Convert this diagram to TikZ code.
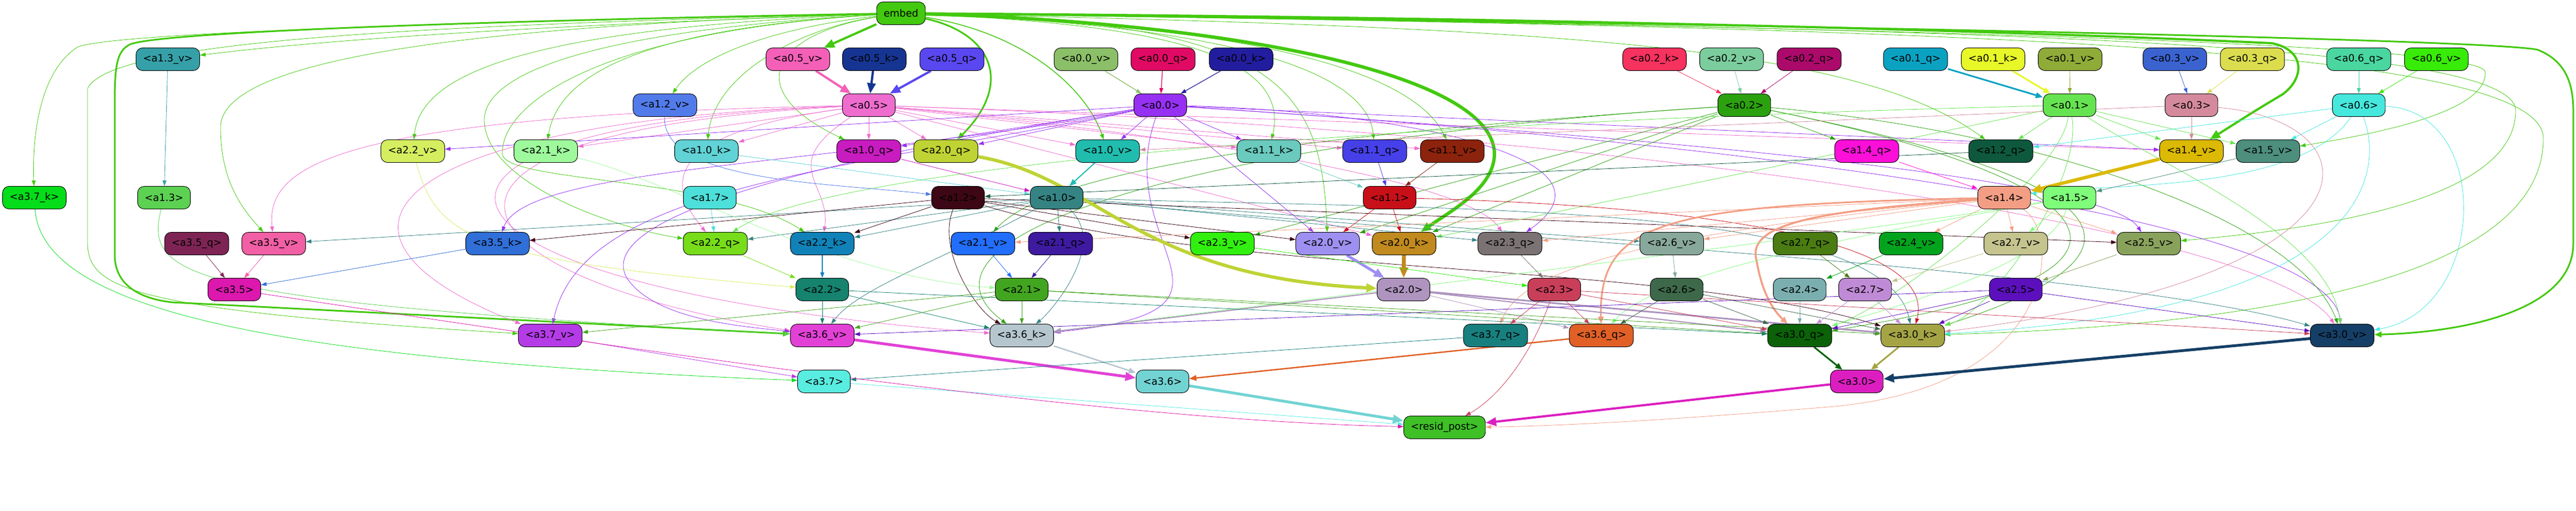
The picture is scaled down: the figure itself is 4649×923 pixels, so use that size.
\documentclass[tikz,border=0pt]{standalone}
\usepackage{fontspec}
\setmainfont{DejaVu Sans}
\usetikzlibrary{arrows.meta}
\usetikzlibrary{backgrounds}
\definecolor{cembed}{HTML}{43C90F}
\definecolor{ca13v}{HTML}{36A0A8}
\definecolor{ca37k}{HTML}{05DD1A}
\definecolor{ca13}{HTML}{5CD152}
\definecolor{ca22v}{HTML}{D4EE60}
\definecolor{ca35q}{HTML}{7E2454}
\definecolor{ca35v}{HTML}{F15FA5}
\definecolor{ca35}{HTML}{DC18AE}
\definecolor{ca05v}{HTML}{F460B8}
\definecolor{ca12v}{HTML}{527BEA}
\definecolor{ca21k}{HTML}{9EF99C}
\definecolor{ca10k}{HTML}{61D2D6}
\definecolor{ca17}{HTML}{4DDFD9}
\definecolor{ca35k}{HTML}{306FD8}
\definecolor{ca22q}{HTML}{77DC1A}
\definecolor{ca22k}{HTML}{1182B8}
\definecolor{ca22}{HTML}{15836E}
\definecolor{ca37v}{HTML}{B43BE6}
\definecolor{ca36v}{HTML}{E241D6}
\definecolor{ca37}{HTML}{59ECE0}
\definecolor{ca05k}{HTML}{163592}
\definecolor{ca05q}{HTML}{5948EF}
\definecolor{ca05}{HTML}{EF6CCF}
\definecolor{ca10q}{HTML}{C81BC0}
\definecolor{ca20q}{HTML}{BFD334}
\definecolor{ca00v}{HTML}{8BBF68}
\definecolor{ca00q}{HTML}{E00A64}
\definecolor{ca00k}{HTML}{221D9E}
\definecolor{ca00}{HTML}{9630F2}
\definecolor{ca10v}{HTML}{20BDAF}
\definecolor{ca11k}{HTML}{6ACABD}
\definecolor{ca12}{HTML}{3D0715}
\definecolor{ca10}{HTML}{368383}
\definecolor{ca21v}{HTML}{226DF9}
\definecolor{ca21q}{HTML}{3E1AA0}
\definecolor{ca23v}{HTML}{31F00F}
\definecolor{ca21}{HTML}{42A51F}
\definecolor{ca36k}{HTML}{B5C6CE}
\definecolor{ca36}{HTML}{72D3D3}
\definecolor{ca02k}{HTML}{F6325F}
\definecolor{ca02v}{HTML}{7CCD9D}
\definecolor{ca02}{HTML}{2CA110}
\definecolor{ca11q}{HTML}{4540E8}
\definecolor{ca11v}{HTML}{8C230C}
\definecolor{ca11}{HTML}{C81019}
\definecolor{ca20v}{HTML}{9E90F1}
\definecolor{ca20k}{HTML}{C08A1F}
\definecolor{ca23q}{HTML}{7B7373}
\definecolor{ca26v}{HTML}{88A89B}
\definecolor{ca20}{HTML}{AE94BF}
\definecolor{ca23}{HTML}{C93F5A}
\definecolor{ca26}{HTML}{3E684A}
\definecolor{ca37q}{HTML}{187F7F}
\definecolor{ca36q}{HTML}{E06026}
\definecolor{cresid}{HTML}{3FC027}
\definecolor{ca02q}{HTML}{AB0A6B}
\definecolor{ca01q}{HTML}{0BA2C2}
\definecolor{ca01k}{HTML}{E7F727}
\definecolor{ca01v}{HTML}{8FAB38}
\definecolor{ca01}{HTML}{66E350}
\definecolor{ca14q}{HTML}{FC0FD9}
\definecolor{ca12q}{HTML}{0E583E}
\definecolor{ca14}{HTML}{F39E84}
\definecolor{ca15}{HTML}{7EFC7A}
\definecolor{ca27q}{HTML}{4A7C12}
\definecolor{ca24v}{HTML}{04A31E}
\definecolor{ca27v}{HTML}{C5C38E}
\definecolor{ca25v}{HTML}{88A25C}
\definecolor{ca24}{HTML}{7BAFAF}
\definecolor{ca27}{HTML}{C08BD6}
\definecolor{ca25}{HTML}{5C10BD}
\definecolor{ca30q}{HTML}{0B6208}
\definecolor{ca30k}{HTML}{A4A445}
\definecolor{ca30}{HTML}{DC1EC0}
\definecolor{ca03v}{HTML}{3A63D0}
\definecolor{ca03q}{HTML}{DBDD4F}
\definecolor{ca06q}{HTML}{49D69F}
\definecolor{ca06v}{HTML}{38EB08}
\definecolor{ca03}{HTML}{D48A9C}
\definecolor{ca06}{HTML}{45E8DD}
\definecolor{ca14v}{HTML}{DCB904}
\definecolor{ca15v}{HTML}{4D8E7C}
\definecolor{ca30v}{HTML}{153F66}
\newcommand{\blk}[4]{\node[blk, fill=c#1] (#1) at (#2,#3) {#4};}

\begin{document}
\begin{tikzpicture}[x=1pt,y=-1pt,
    blk/.style={draw=black, line width=0.9pt, rounded corners=12pt, minimum height=41pt,
        inner xsep=12.75pt, inner ysep=0pt, font=\fontsize{18}{20}\selectfont},
    e/.style={-{Triangle[length=10pt,width=7pt]}, line width=0.8pt},
    em/.style={-{Triangle[length=13pt,width=10pt]}, line width=2.4pt},
    eb/.style={-{Triangle[length=19pt,width=15pt]}, line width=5pt}]
        \useasboundingbox (0,0) rectangle (4649,923);
        % row0
        \blk{embed}{1626}{24}{embed}
        % row1
        \blk{a13v}{303}{107}{<a1.3\_v>}
        \blk{a05v}{1440}{107}{<a0.5\_v>}
        \blk{a05k}{1578}{107}{<a0.5\_k>}
        \blk{a05q}{1718}{107}{<a0.5\_q>}
        \blk{a00v}{1960}{107}{<a0.0\_v>}
        \blk{a00q}{2099}{107}{<a0.0\_q>}
        \blk{a00k}{2240}{107}{<a0.0\_k>}
        \blk{a02k}{2986}{107}{<a0.2\_k>}
        \blk{a02v}{3125}{107}{<a0.2\_v>}
        \blk{a02q}{3265}{107}{<a0.2\_q>}
        \blk{a01q}{3457}{107}{<a0.1\_q>}
        \blk{a01k}{3597}{107}{<a0.1\_k>}
        \blk{a01v}{3736}{107}{<a0.1\_v>}
        \blk{a03v}{3925}{107}{<a0.3\_v>}
        \blk{a03q}{4065}{107}{<a0.3\_q>}
        \blk{a06q}{4257}{107}{<a0.6\_q>}
        \blk{a06v}{4397}{107}{<a0.6\_v>}
        % row2
        \blk{a12v}{1200}{190}{<a1.2\_v>}
        \blk{a05}{1568}{190}{<a0.5>}
        \blk{a00}{2094}{190}{<a0.0>}
        \blk{a02}{3148}{190}{<a0.2>}
        \blk{a01}{3735}{190}{<a0.1>}
        \blk{a03}{3955}{190}{<a0.3>}
        \blk{a06}{4257}{190}{<a0.6>}
        % row3
        \blk{a22v}{745}{273}{<a2.2\_v>}
        \blk{a21k}{985}{273}{<a2.1\_k>}
        \blk{a10k}{1275}{273}{<a1.0\_k>}
        \blk{a10q}{1568}{273}{<a1.0\_q>}
        \blk{a20q}{1707}{273}{<a2.0\_q>}
        \blk{a10v}{1999}{273}{<a1.0\_v>}
        \blk{a11k}{2290}{273}{<a1.1\_k>}
        \blk{a11q}{2481}{273}{<a1.1\_q>}
        \blk{a11v}{2621}{273}{<a1.1\_v>}
        \blk{a14q}{3369}{273}{<a1.4\_q>}
        \blk{a12q}{3611}{273}{<a1.2\_q>}
        \blk{a14v}{3955}{273}{<a1.4\_v>}
        \blk{a15v}{4093}{273}{<a1.5\_v>}
        % row4
        \blk{a37k}{62}{357}{<a3.7\_k>}
        \blk{a13}{296}{357}{<a1.3>}
        \blk{a17}{1281}{357}{<a1.7>}
        \blk{a12}{1729}{357}{<a1.2>}
        \blk{a10}{1907}{357}{<a1.0>}
        \blk{a11}{2508}{357}{<a1.1>}
        \blk{a14}{3617}{357}{<a1.4>}
        \blk{a15}{3735}{357}{<a1.5>}
        % row5
        \blk{a35q}{355}{440}{<a3.5\_q>}
        \blk{a35v}{494}{440}{<a3.5\_v>}
        \blk{a35k}{898}{440}{<a3.5\_k>}
        \blk{a22q}{1291}{440}{<a2.2\_q>}
        \blk{a22k}{1484}{440}{<a2.2\_k>}
        \blk{a21v}{1774}{440}{<a2.1\_v>}
        \blk{a21q}{1914}{440}{<a2.1\_q>}
        \blk{a23v}{2206}{440}{<a2.3\_v>}
        \blk{a20v}{2396}{440}{<a2.0\_v>}
        \blk{a20k}{2534}{440}{<a2.0\_k>}
        \blk{a23q}{2725}{440}{<a2.3\_q>}
        \blk{a26v}{3017}{440}{<a2.6\_v>}
        \blk{a27q}{3258}{440}{<a2.7\_q>}
        \blk{a24v}{3449}{440}{<a2.4\_v>}
        \blk{a27v}{3638}{440}{<a2.7\_v>}
        \blk{a25v}{3878}{440}{<a2.5\_v>}
        % row6
        \blk{a35}{423}{523}{<a3.5>}
        \blk{a22}{1484}{523}{<a2.2>}
        \blk{a21}{1844}{523}{<a2.1>}
        \blk{a20}{2533}{523}{<a2.0>}
        \blk{a23}{2805}{523}{<a2.3>}
        \blk{a26}{3026}{523}{<a2.6>}
        \blk{a24}{3248}{523}{<a2.4>}
        \blk{a27}{3366}{523}{<a2.7>}
        \blk{a25}{3638}{523}{<a2.5>}
        % row7
        \blk{a37v}{993}{606}{<a3.7\_v>}
        \blk{a36v}{1484}{606}{<a3.6\_v>}
        \blk{a36k}{1844}{606}{<a3.6\_k>}
        \blk{a37q}{2699}{606}{<a3.7\_q>}
        \blk{a36q}{2890}{606}{<a3.6\_q>}
        \blk{a30q}{3248}{606}{<a3.0\_q>}
        \blk{a30k}{3452}{606}{<a3.0\_k>}
        \blk{a30v}{4227}{606}{<a3.0\_v>}
        % row8
        \blk{a37}{1487}{689}{<a3.7>}
        \blk{a36}{2098}{689}{<a3.6>}
        \blk{a30}{3351}{689}{<a3.0>}
        % row9
        \blk{resid}{2607}{772}{<resid\_post>}

        \begin{pgfonlayer}{background}
        % embed, thick
        \draw[eb, draw=cembed, line width=4pt] (embed) -- (a05v);
        \draw[em, draw=cembed, line width=3pt] (embed) .. controls (1790,60) and (1830,150) .. (a20q);
        \draw[eb, draw=cembed, line width=6pt] (embed) .. controls (2200,40) and (2700,130) .. (2697,280) .. controls (2695,340) and (2620,380) .. (a20k);
        \draw[eb, draw=cembed, line width=4pt] (embed) .. controls (2600,30) and (3500,50) .. (4100,78) .. controls (4160,90) and (4160,140) .. (4120,170) .. controls (4070,200) .. (a14v);
        \draw[em, draw=cembed, line width=3pt] (embed) .. controls (3000,40) and (4500,70) .. (4580,90) .. controls (4630,110) and (4644,150) .. (4644,200) -- (4644,440) .. controls (4644,560) and (4450,600) .. (a30v);
        \draw[em, draw=cembed, line width=3pt] (embed) .. controls (1000,35) and (300,55) .. (235,80) .. controls (210,92) and (207,120) .. (207,190) -- (207,460) .. controls (207,520) and (260,540) .. (310,546) -- (a36v);
        \draw[e, draw=cembed, line width=1.5pt] (embed) .. controls (1850,60) and (1960,160) .. (a10v);
        % embed, thin
        \draw[e, draw=cembed] (embed) .. controls (1000,45) and (600,70) .. (a13v);
        \draw[e, draw=cembed] (embed) .. controls (800,40) and (200,60) .. (140,85) .. controls (70,130) and (58,250) .. (a37k);
        \draw[e, draw=cembed] (embed) .. controls (800,45) and (200,70) .. (158,160) -- (158,440) .. controls (160,520) and (230,560) .. (a37v);
        \draw[e, draw=cembed] (embed) .. controls (900,45) and (398,100) .. (398,230) .. controls (398,330) and (440,380) .. (a35v);
        \draw[e, draw=cembed] (embed) .. controls (1000,50) and (760,120) .. (a22v);
        \draw[e, draw=cembed] (embed) .. controls (1200,50) and (1010,120) .. (a21k);
        \draw[e, draw=cembed] (embed) .. controls (1400,50) and (1260,100) .. (a12v);
        \draw[e, draw=cembed] (embed) .. controls (1450,50) and (1290,130) .. (a10k);
        \draw[e, draw=cembed] (embed) .. controls (1400,60) and (1330,160) .. (a10q);
        \draw[e, draw=cembed] (embed) .. controls (1000,60) and (870,150) .. (874,220) .. controls (880,330) and (1100,410) .. (a22q);
        \draw[e, draw=cembed] (embed) .. controls (1050,60) and (900,200) .. (907,280) .. controls (920,330) and (1300,320) .. (a22k);
        \draw[e, draw=cembed] (embed) .. controls (2100,45) and (2330,100) .. (a11k);
        \draw[e, draw=cembed] (embed) .. controls (2300,50) and (2470,150) .. (a11q);
        \draw[e, draw=cembed] (embed) .. controls (2350,50) and (2560,150) .. (a11v);
        \draw[e, draw=cembed] (embed) .. controls (2300,40) and (2385,150) .. (a20v);
        \draw[e, draw=cembed] (embed) .. controls (2800,50) and (3350,80) .. (a12q);
        \draw[e, draw=cembed] (embed) .. controls (3500,50) and (4480,80) .. (4485,130) .. controls (4490,200) and (4300,240) .. (a15v);
        \draw[e, draw=cembed] (embed) .. controls (3500,50) and (4540,70) .. (4540,200) .. controls (4540,380) and (4100,420) .. (a25v);
        \draw[e, draw=cembed] (embed) .. controls (3500,50) and (4590,80) .. (4590,250) .. controls (4590,520) and (4000,590) .. (a30k);

        % layer0 heads
        \draw[eb, draw=ca05v, line width=4pt] (a05v) -- (a05);
        \draw[eb, draw=ca05k, line width=4pt] (a05k) -- (a05);
        \draw[eb, draw=ca05q, line width=4pt] (a05q) -- (a05);
        \draw[e, draw=ca00v, line width=1.3pt] (a00v) -- (a00);
        \draw[e, draw=ca00q, line width=1.3pt] (a00q) -- (a00);
        \draw[e, draw=ca00k, line width=1.2pt] (a00k) -- (a00);
        \draw[e, draw=ca02k] (a02k) -- (a02);
        \draw[e, draw=ca02v] (a02v) -- (a02);
        \draw[e, draw=ca02q] (a02q) -- (a02);
        \draw[em, draw=ca01q, line width=3pt] (a01q) -- (a01);
        \draw[em, draw=ca01k, line width=3pt] (a01k) -- (a01);
        \draw[e, draw=ca01v] (a01v) -- (a01);
        \draw[e, draw=ca03v] (a03v) -- (a03);
        \draw[e, draw=ca03q] (a03q) -- (a03);
        \draw[e, draw=ca06q] (a06q) -- (a06);
        \draw[e, draw=ca06v] (a06v) -- (a06);

        % layer0 out
        \draw[e, draw=ca05] (a05) -- (a10q);
        \draw[e, draw=ca05] (a05) -- (a20q);
        \draw[e, draw=ca05] (a05) -- (a10v);
        \draw[e, draw=ca05] (a05) -- (a11k);
        \draw[e, draw=ca05] (a05) -- (a11q);
        \draw[e, draw=ca05] (a05) -- (a11v);
        \draw[e, draw=ca05] (a05) -- (a21k);
        \draw[e, draw=ca05] (a05) -- (a10k);
        \draw[e, draw=ca05] (a05) .. controls (600,210) and (480,300) .. (a35v);
        \draw[e, draw=ca05] (a05) .. controls (700,220) and (520,420) .. (a37v);
        \draw[e, draw=ca05] (a05) .. controls (600,230) and (700,520) .. (a36k);
        \draw[e, draw=ca05] (a05) .. controls (650,240) and (800,500) .. (a36v);
        \draw[e, draw=ca05] (a05) .. controls (1200,240) and (1200,330) .. (a22q);
        \draw[e, draw=ca05] (a05) .. controls (1400,300) and (1500,330) .. (a22k);
        \draw[e, draw=ca05] (a05) .. controls (2200,250) and (2650,330) .. (a23q);
        \draw[e, draw=ca05] (a05) -- (a20k);
        \draw[e, draw=ca05] (a05) -- (a14v);
        \draw[e, draw=ca05] (a05) .. controls (3000,240) and (4100,420) .. (a30v);
        \draw[e, draw=ca00] (a00) -- (a10v);
        \draw[e, draw=ca00] (a00) -- (a11k);
        \draw[e, draw=ca00] (a00) -- (a20q);
        \draw[e, draw=ca00] (a00) -- (a10q);
        \draw[e, draw=ca00] (a00) -- (a22v);
        \draw[e, draw=ca00] (a00) .. controls (1500,300) and (950,300) .. (a35k);
        \draw[e, draw=ca00] (a00) .. controls (1500,310) and (1050,340) .. (a37v);
        \draw[e, draw=ca00] (a00) .. controls (1400,300) and (1080,400) .. (1130,500) .. controls (1180,580) and (1350,590) .. (a36v);
        \draw[e, draw=ca00] (a00) -- (a20v);
        \draw[e, draw=ca00] (a00) -- (a14v);
        \draw[e, draw=ca00] (a00) .. controls (3000,250) and (3800,320) .. (a25v);
        \draw[e, draw=ca00] (a00) .. controls (3200,260) and (4200,400) .. (a30v);
        \draw[e, draw=ca00] (a00) .. controls (2500,200) and (2950,280) .. (a23q);
        \draw[e, draw=ca00] (a00) .. controls (2000,450) and (2300,560) .. (a36k);
        \draw[e, draw=ca02] (a02) -- (a14q);
        \draw[e, draw=ca02] (a02) -- (a20k);
        \draw[e, draw=ca02] (a02) -- (a20v);
        \draw[e, draw=ca02] (a02) -- (a23v);
        \draw[e, draw=ca02] (a02) .. controls (2400,240) and (1900,300) .. (a21v);
        \draw[e, draw=ca02] (a02) .. controls (2200,250) and (1600,420) .. (a36k);
        \draw[e, draw=ca02] (a02) .. controls (3700,300) and (4050,480) .. (a30q);
        \draw[e, draw=ca02] (a02) .. controls (3700,300) and (4000,430) .. (a30k);
        \draw[e, draw=ca02] (a02) .. controls (3700,240) and (4150,400) .. (a30v);
        \draw[e, draw=ca01] (a01) -- (a12q);
        \draw[e, draw=ca01] (a01) -- (a14v);
        \draw[e, draw=ca01] (a01) -- (a15v);
        \draw[e, draw=ca01] (a01) -- (a20k);
        \draw[e, draw=ca01] (a01) .. controls (2500,220) and (1500,300) .. (a22q);
        \draw[e, draw=ca01] (a01) .. controls (3720,320) and (3400,560) .. (a30q);
        \draw[e, draw=ca01] (a01) .. controls (3760,320) and (3600,560) .. (a30k);
        \draw[e, draw=ca01] (a01) .. controls (3900,300) and (4200,420) .. (a30v);
        \draw[e, draw=ca03] (a03) -- (a14v);
        \draw[e, draw=ca03] (a03) -- (a10v);
        \draw[e, draw=ca03] (a03) .. controls (4300,220) and (4320,500) .. (a30k);
        \draw[e, draw=ca06] (a06) -- (a12q);
        \draw[e, draw=ca06] (a06) -- (a15v);
        \draw[e, draw=ca06] (a06) .. controls (4500,200) and (4490,560) .. (a30v);
        \draw[e, draw=ca06] (a06) .. controls (4300,300) and (4300,560) .. (a30k);
        \draw[e, draw=ca06] (a06) .. controls (4150,350) and (3800,330) .. (a14);

        % layer1 heads
        \draw[e, draw=ca10k] (a10k) -- (a10);
        \draw[e, draw=ca10q] (a10q) -- (a10);
        \draw[em, draw=ca10v, line width=2pt] (a10v) -- (a10);
        \draw[e, draw=ca11k] (a11k) -- (a11);
        \draw[e, draw=ca11q] (a11q) -- (a11);
        \draw[e, draw=ca11v] (a11v) -- (a11);
        \draw[e, draw=ca12v] (a12v) .. controls (1195,330) and (1500,330) .. (a12);
        \draw[e, draw=ca12q] (a12q) -- (a12);
        \draw[e, draw=ca13v] (a13v) -- (a13);
        \draw[e, draw=ca14q] (a14q) -- (a14);
        \draw[eb, draw=ca14v, line width=6pt] (a14v) -- (a14);
        \draw[e, draw=ca15v] (a15v) -- (a15);
        \draw[e, draw=ca17] (a17) -- (a22q);

        % layer1 out
        \draw[e, draw=ca10] (a10) -- (a21q);
        \draw[e, draw=ca10] (a10) -- (a35v);
        \draw[e, draw=ca10] (a10) -- (a22k);
        \draw[e, draw=ca10] (a10) -- (a22q);
        \draw[e, draw=ca10] (a10) .. controls (2000,440) and (1900,560) .. (a36k);
        \draw[e, draw=ca10] (a10) -- (a26v);
        \draw[e, draw=ca10] (a10) -- (a23q);
        \draw[e, draw=ca10] (a10) .. controls (2600,380) and (3400,360) .. (a30k);
        \draw[e, draw=ca10] (a10) .. controls (2500,420) and (3800,480) .. (a30v);
        \draw[e, draw=ca10] (a10) .. controls (1700,470) and (1550,520) .. (a36v);
        \draw[e, draw=ca12] (a12) -- (a35k);
        \draw[e, draw=ca12] (a12) -- (a22k);
        \draw[e, draw=ca12] (a12) -- (a23v);
        \draw[e, draw=ca12] (a12) -- (a20v);
        \draw[e, draw=ca12] (a12) -- (a25v);
        \draw[e, draw=ca12] (a12) .. controls (2200,500) and (3000,470) .. (a30k);
        \draw[e, draw=ca12] (a12) .. controls (1690,450) and (1760,560) .. (a36k);
        \draw[e, draw=ca11] (a11) -- (a20v);
        \draw[e, draw=ca11] (a11) -- (a20k);
        \draw[e, draw=ca11] (a11) .. controls (3000,370) and (3500,420) .. (a30k);
        \draw[e, draw=ca13] (a13) .. controls (260,500) and (330,545) .. (a36v);
        \draw[em, draw=ca14, line width=3.5pt] (a14) .. controls (3300,380) and (3150,400) .. (3170,470) .. controls (3180,530) and (3200,560) .. (a30q);
        \draw[em, draw=ca14, line width=3pt] (a14) .. controls (3000,370) and (2885,400) .. (a36q);
        \draw[e, draw=ca14] (a14) -- (a24v);
        \draw[e, draw=ca14] (a14) -- (a27v);
        \draw[e, draw=ca14] (a14) -- (a25v);
        \draw[e, draw=ca14] (a14) -- (a21v);
        \draw[e, draw=ca14] (a14) -- (a23q);
        \draw[e, draw=ca14] (a14) -- (a26v);
        \draw[e, draw=ca14] (a14) .. controls (3000,420) and (2750,480) .. (a37q);
        \draw[e, draw=ca14] (a14) .. controls (3720,420) and (3720,700) .. (3300,735) .. controls (3000,760) and (2800,770) .. (resid);
        \draw[e, draw=ca15] (a15) -- (a27v);
        \draw[e, draw=ca15] (a15) .. controls (3500,400) and (3000,480) .. (a36q);
        \draw[e, draw=ca15] (a15) .. controls (3300,430) and (2200,560) .. (a36k);
        \draw[e, draw=ca15] (a15) .. controls (3700,480) and (3400,560) .. (a30q);

        % layer2 heads
        \draw[eb, draw=ca20q, line width=6pt] (a20q) .. controls (1980,320) and (2050,500) .. (a20);
        \draw[eb, draw=ca20k, line width=7pt] (a20k) -- (a20);
        \draw[eb, draw=ca20v, line width=5pt] (a20v) -- (a20);
        \draw[e, draw=ca21k] (a21k) .. controls (1200,320) and (1500,500) .. (a21);
        \draw[e, draw=ca21q] (a21q) -- (a21);
        \draw[e, draw=ca21v] (a21v) -- (a21);
        \draw[e, draw=ca22k, line width=1.5pt] (a22k) -- (a22);
        \draw[e, draw=ca22q] (a22q) -- (a22);
        \draw[e, draw=ca22v] (a22v) .. controls (790,430) and (850,468) .. (a22);
        \draw[e, draw=ca23q] (a23q) -- (a23);
        \draw[e, draw=ca23v] (a23v) -- (a23);
        \draw[e, draw=ca24v] (a24v) -- (a24);
        \draw[e, draw=ca25v] (a25v) -- (a25);
        \draw[e, draw=ca26v] (a26v) -- (a26);
        \draw[e, draw=ca27q] (a27q) -- (a27);
        \draw[e, draw=ca27v] (a27v) -- (a27);

        % layer2 out
        \draw[em, draw=ca20, line width=3pt] (a20) -- (a30k);
        \draw[em, draw=ca20, line width=2pt] (a20) -- (a30q);
        \draw[em, draw=ca20, line width=2pt] (a20) -- (a36k);
        \draw[e, draw=ca20] (a20) -- (a36q);
        \draw[e, draw=ca21] (a21) -- (a36k);
        \draw[e, draw=ca21] (a21) -- (a37v);
        \draw[e, draw=ca21] (a21) -- (a30q);
        \draw[e, draw=ca21] (a21) -- (a30k);
        \draw[e, draw=ca21] (a21) -- (a36v);
        \draw[e, draw=ca22] (a22) -- (a36v);
        \draw[e, draw=ca22] (a22) -- (a36k);
        \draw[e, draw=ca22] (a22) -- (a30q);
        \draw[e, draw=ca23] (a23) -- (a37q);
        \draw[e, draw=ca23] (a23) -- (a36q);
        \draw[e, draw=ca23] (a23) .. controls (2760,650) and (2700,720) .. (resid);
        \draw[e, draw=ca23] (a23) -- (a30q);
        \draw[e, draw=ca23] (a23) -- (a30v);
        \draw[e, draw=ca24] (a24) -- (a30q);
        \draw[e, draw=ca25] (a25) -- (a30k);
        \draw[e, draw=ca25] (a25) -- (a30q);
        \draw[e, draw=ca25] (a25) -- (a30v);
        \draw[e, draw=ca25] (a25) -- (a36v);
        \draw[e, draw=ca26] (a26) -- (a36q);
        \draw[e, draw=ca26] (a26) -- (a30q);
        \draw[e, draw=ca26] (a26) -- (a30k);
        \draw[e, draw=ca27] (a27) -- (a30q);
        \draw[e, draw=ca27] (a27) -- (a30k);

        % layer3
        \draw[e, draw=ca35q] (a35q) -- (a35);
        \draw[e, draw=ca35v] (a35v) -- (a35);
        \draw[e, draw=ca35k] (a35k) -- (a35);
        \draw[eb, draw=ca36v, line width=5pt] (a36v) -- (a36);
        \draw[em, draw=ca36k, line width=2.5pt] (a36k) -- (a36);
        \draw[em, draw=ca36q, line width=2.5pt] (a36q) -- (a36);
        \draw[e, draw=ca37v] (a37v) -- (a37);
        \draw[e, draw=ca37k] (a37k) .. controls (75,560) and (500,650) .. (a37);
        \draw[e, draw=ca37q] (a37q) -- (a37);
        \draw[eb, draw=ca30v, line width=5pt] (a30v) -- (a30);
        \draw[em, draw=ca30q, line width=3pt] (a30q) -- (a30);
        \draw[em, draw=ca30k, line width=3pt] (a30k) -- (a30);
        \draw[eb, draw=ca36, line width=5pt] (a36) -- (resid);
        \draw[eb, draw=ca30, line width=4pt] (a30) -- (resid);
        \draw[e, draw=ca37] (a37) -- (resid);
        \draw[e, draw=ca35] (a35) .. controls (1200,640) and (2000,760) .. (resid);
        \end{pgfonlayer}
    \end{tikzpicture}
\end{document}
